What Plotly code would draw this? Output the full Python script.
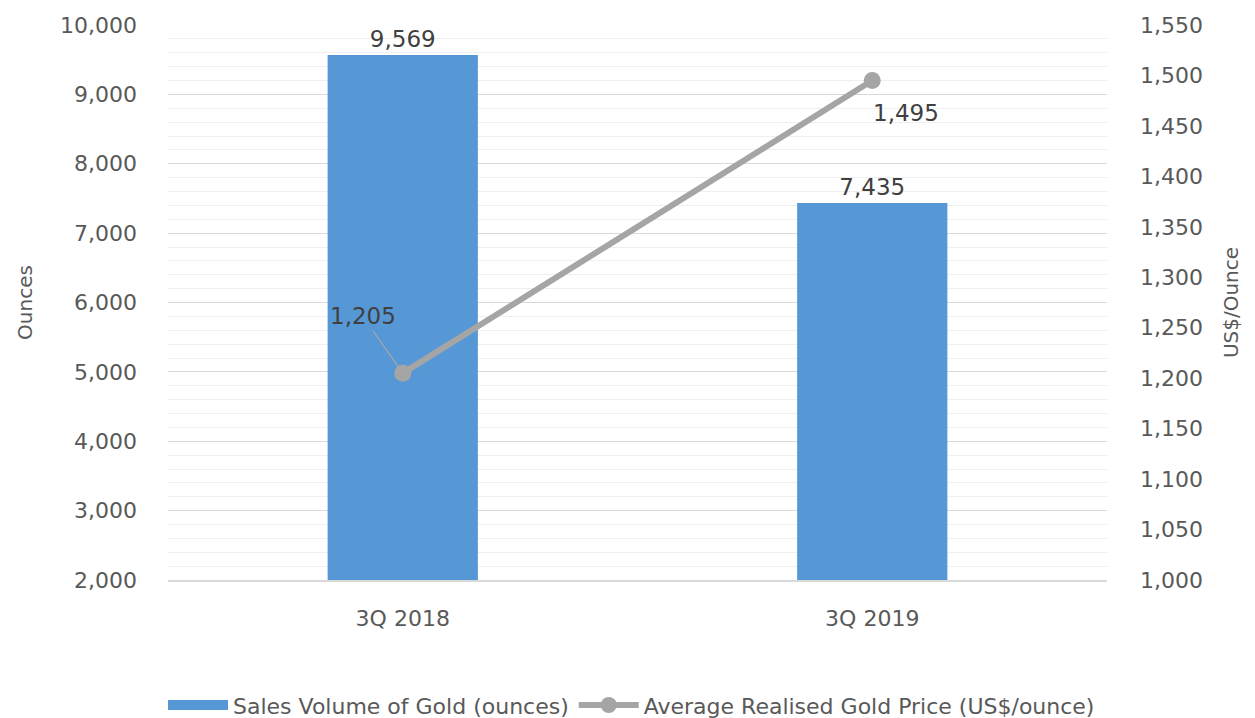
import plotly.graph_objects as go

categories = ["3Q 2018", "3Q 2019"]
sales_volume = [9569, 7435]
gold_price = [1205, 1495]
left_ticks = [2000, 3000, 4000, 5000, 6000, 7000, 8000, 9000, 10000]
right_ticks = [1000, 1050, 1100, 1150, 1200, 1250, 1300, 1350, 1400, 1450, 1500, 1550]
bar_name = "Sales Volume of Gold (ounces)"
line_name = "Average Realised Gold Price (US$/ounce)"

FONT = "DejaVu Sans"
TXT = "#595959"
TS = 22
LS = 23
BLUE = "#5698d6"

fig = go.Figure()
# legend proxy for the bar series (wide rectangle swatch like the reference)
fig.add_trace(go.Scatter(x=[categories[0]], y=[None], mode="lines", name=bar_name,
                         line=dict(color=BLUE, width=16), hoverinfo="skip"))
fig.add_trace(go.Bar(
    x=categories, y=sales_volume, name=bar_name, showlegend=False,
    marker=dict(color=BLUE, line=dict(width=0)),
    text=[f"{v:,}" for v in sales_volume], textposition="outside",
    textfont=dict(family=FONT, size=LS, color="#404040"), cliponaxis=False,
))
fig.add_trace(go.Scatter(
    x=categories, y=gold_price, name=line_name,
    yaxis="y2", mode="lines+markers",
    line=dict(color="#a5a5a5", width=6),
    marker=dict(color="#a5a5a5", size=17), cliponaxis=False,
))

# data labels for line
fig.add_annotation(x=categories[0], y=gold_price[0], xref="x", yref="y2",
                   text=f"{gold_price[0]:,}", showarrow=True, arrowhead=0,
                   arrowwidth=1.2, arrowcolor="#a5a5a5", ax=-40, ay=-57,
                   standoff=8, font=dict(family=FONT, size=LS, color="#404040"))
fig.add_annotation(x=categories[1], y=gold_price[1], xref="x", yref="y2",
                   text=f"{gold_price[1]:,}", showarrow=False,
                   xshift=34, yshift=-32,
                   font=dict(family=FONT, size=LS, color="#404040"))

fig.update_layout(
    width=1247, height=710,
    margin=dict(l=160, r=148, t=17, b=138, autoexpand=False),
    paper_bgcolor="white", plot_bgcolor="white",
    bargap=0.68,
    font=dict(family=FONT, size=TS, color=TXT),
    showlegend=True,
    legend=dict(orientation="h", xref="container", x=0.5, xanchor="center",
                yref="container", y=0.018, yanchor="middle",
                font=dict(family=FONT, size=22, color=TXT), itemwidth=60),
    xaxis=dict(type="category", categoryarray=categories, categoryorder="array",
               showline=True, linecolor="#d9d9d9", linewidth=1.5, automargin=False,
               tickfont=dict(family=FONT, size=TS, color=TXT), ticks="", ticklabelstandoff=18),
    yaxis=dict(range=[2000, 10000], tickvals=left_ticks, tickformat=",", automargin=False,
               showgrid=True, gridcolor="#d9d9d9", gridwidth=1,
               minor=dict(dtick=200, showgrid=True, gridcolor="#efefef", gridwidth=1),
               zeroline=False, showline=False,
               title=dict(text="Ounces", font=dict(family=FONT, size=20, color=TXT), standoff=22),
               tickfont=dict(family=FONT, size=TS, color=TXT), ticklabelstandoff=30),
    yaxis2=dict(range=[1000, 1550], tickvals=right_ticks, tickformat=",", automargin=False,
                overlaying="y", side="right", showgrid=False, zeroline=False,
                title=dict(text="US$/Ounce", font=dict(family=FONT, size=20, color=TXT), standoff=22),
                tickfont=dict(family=FONT, size=TS, color=TXT), ticklabelstandoff=32),
)

fig.write_html("out.html")
